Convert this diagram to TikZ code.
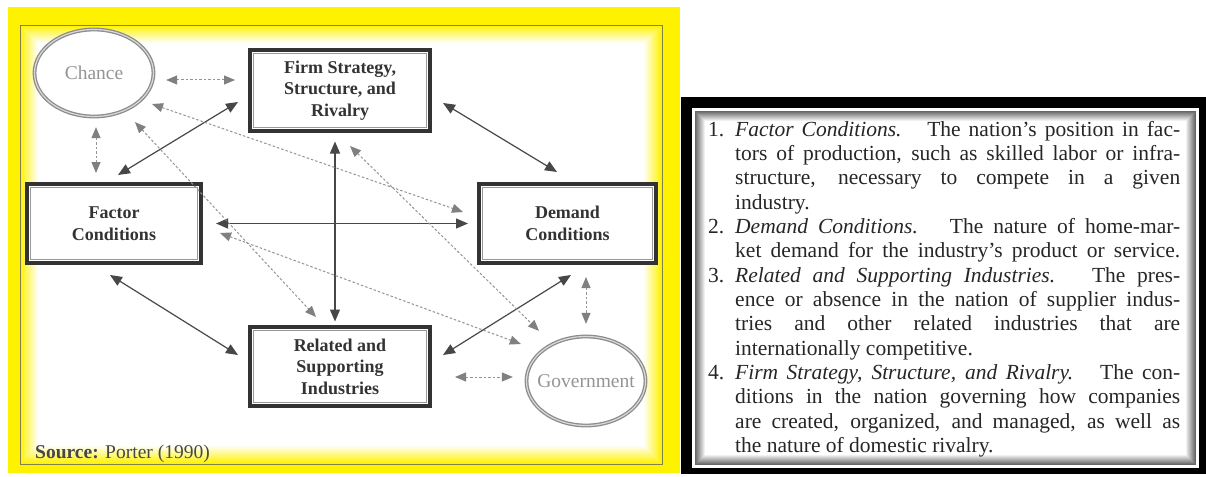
\documentclass[tikz,border=0pt]{standalone}
\usepackage{fontspec}
\setmainfont{Liberation Serif}
\usetikzlibrary{arrows.meta,shapes.geometric,calc}
\begin{document}
\begin{tikzpicture}[x=1pt,y=-1pt,
  boxnode/.style={draw=black!80, line width=4, fill=white, inner sep=0, align=center,
    text=black!80, font=\fontsize{18}{21.5}\selectfont\bfseries},
  innerframe/.style={draw=black!40, line width=1.8},
  ovalnode/.style={ellipse, draw=black!45, line width=1.3, double=black!15, double distance=1.2,
    fill=white, inner sep=-20pt, text=black!42, font=\fontsize{19.5}{22}\selectfont},
  solidarrow/.style={draw=black!72, line width=1.2,
    arrows={Triangle[length=12pt,width=10pt]-Triangle[length=12pt,width=10pt]}},
  dasharrow/.style={draw=black!42, line width=1, dash pattern=on 2.5pt off 2pt,
    arrows={Triangle[length=11pt,width=9pt,color=black!50]-Triangle[length=11pt,width=9pt,color=black!50]}},
  listfont/.style={font=\fontsize{21.5}{24.35}\selectfont}
]
\useasboundingbox (0,0) rectangle (1206,476);
\fill[white] (0,0) rectangle (1206,476);

% ---------- yellow panel ----------
\fill[yellow] (8,7) rectangle (680,473);
\foreach \i [evaluate=\i as \c using int(100-\i*100/18)] in {0,...,18}
  \fill[yellow!\c!white] (20+\i,25+\i) rectangle (662-\i,464-\i);
\draw[yellow!45!black, line width=0.8] (20,25) rectangle (662,464);

% ---------- nodes ----------
\node[ovalnode, minimum width=119, minimum height=87] (chance) at (94,73) {Chance};
\node[ovalnode, minimum width=119, minimum height=89] (gov) at (586,381) {Government};

\node[boxnode, minimum width=180, minimum height=81] (firm) at (340,90.5)
  {Firm Strategy,\\Structure, and\\Rivalry};
\node[boxnode, minimum width=174, minimum height=79] (factor) at (114,223.5)
  {Factor\\Conditions};
\node[boxnode, minimum width=177, minimum height=79] (demand) at (567.5,223.5)
  {Demand\\Conditions};
\node[boxnode, minimum width=180, minimum height=79] (related) at (340,366.5)
  {Related and\\Supporting\\Industries};
\foreach \n in {firm,factor,demand,related}
  \draw[innerframe] ([shift={(5.5,5.5)}]\n.north west) rectangle ([shift={(-5.5,-5.5)}]\n.south east);

\node[anchor=base west, inner sep=0, text=black!72, font=\fontsize{19.5}{22}\selectfont] (source) at (35,458)
  {\textbf{Source:} Porter (1990)};

% ---------- solid connectors ----------
\draw[solidarrow] ([shift={(4,-7)}]factor.north) -- ([shift={(-10,11.5)}]firm.west);
\draw[solidarrow] ([shift={(11,12.5)}]firm.east) -- ([shift={(-10.5,-10)}]demand.north);
\draw[solidarrow] ([shift={(13,0)}]factor.east) -- ([shift={(-9,0)}]demand.west);
\draw[solidarrow] ([shift={(-5,8.5)}]firm.south) -- ([shift={(-5,-3.5)}]related.north);
\draw[solidarrow] ([shift={(-4,10)}]factor.south) -- ([shift={(-10,-11.5)}]related.west);
\draw[solidarrow] ([shift={(11,-11.5)}]related.east) -- ([shift={(3.5,10)}]demand.south);

% ---------- dashed connectors ----------
\draw[dasharrow] ([shift={(12,7)}]chance.east) -- ([shift={(-13,-10.5)}]firm.west);
\draw[dasharrow] ([shift={(2,10)}]chance.south) -- ([shift={(-18,-9)}]factor.north);
\draw[dasharrow] ([shift={(18.5,12)}]demand.south) -- ([shift={(0,-12)}]gov.north);
\draw[dasharrow] ([shift={(23,10.5)}]related.east) -- ([shift={(-13,-4)}]gov.west);
\draw[dasharrow] ([shift={(58,31)}]chance.center) -- ([shift={(-14,-11.5)}]demand.west);
\draw[dasharrow] ([shift={(41,49)}]chance.center) -- ([shift={(-24,-8)}]related.north);
\draw[dasharrow] ([shift={(10,13)}]firm.south) -- ([shift={(-47,-5)}]gov.north);
\draw[dasharrow] ([shift={(17,9.5)}]factor.east) -- ([shift={(-5,-37)}]gov.west);

% ---------- right panel ----------
\fill[black] (681,97) rectangle (1206,474);
\fill[white] (692,108) rectangle (1199,468);
\foreach \i [evaluate=\i as \c using int(60-\i*6)] in {0,...,10}
  \fill[black!\c] (695+\i,111+\i) rectangle (1196-\i,465-\i);

\node[anchor=base west, inner sep=0, listfont, text=black!85] (list) at (708,136) {%
\begin{minipage}[t]{472pt}
\fontsize{21.5}{24.35}\selectfont\parskip=0pt\parindent=0pt
\makebox[27pt][l]{1.}\makebox[445pt][s]{\textit{Factor Conditions.}\hspace{0.5em} The nation's position in fac-}\par
\hspace*{27pt}\makebox[445pt][s]{tors of production, such as skilled labor or infra-}\par
\hspace*{27pt}\makebox[445pt][s]{structure, necessary to compete in a given}\par
\hspace*{27pt}industry.\par
\makebox[27pt][l]{2.}\makebox[445pt][s]{\textit{Demand Conditions.}\hspace{0.5em} The nature of home-mar-}\par
\hspace*{27pt}\makebox[445pt][s]{ket demand for the industry's product or service.}\par
\makebox[27pt][l]{3.}\makebox[445pt][s]{\textit{Related and Supporting Industries.}\hspace{0.5em} The pres-}\par
\hspace*{27pt}\makebox[445pt][s]{ence or absence in the nation of supplier indus-}\par
\hspace*{27pt}\makebox[445pt][s]{tries and other related industries that are}\par
\hspace*{27pt}internationally competitive.\par
\makebox[27pt][l]{4.}\makebox[445pt][s]{\textit{Firm Strategy, Structure, and Rivalry.}\hspace{0.5em} The con-}\par
\hspace*{27pt}\makebox[445pt][s]{ditions in the nation governing how companies}\par
\hspace*{27pt}\makebox[445pt][s]{are created, organized, and managed, as well as}\par
\hspace*{27pt}the nature of domestic rivalry.\par
\end{minipage}};
\end{tikzpicture}
\end{document}
